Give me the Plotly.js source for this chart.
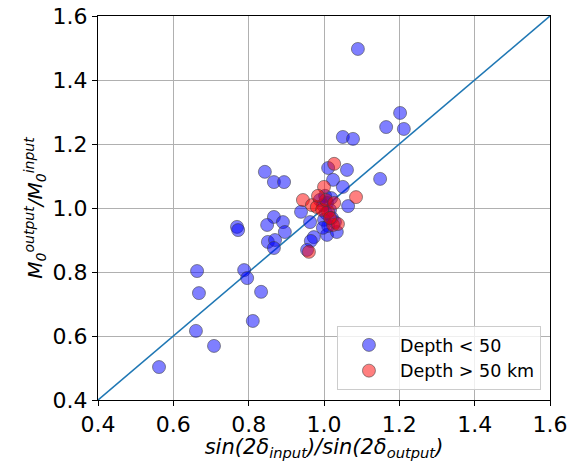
<!DOCTYPE html>
<html>
<head>
<meta charset="utf-8">
<script src="https://cdn.plot.ly/plotly-3.0.1.min.js"></script>
<style>html,body{margin:0;padding:0;background:#fff;}#chart{width:579px;height:461px;}</style>
</head>
<body>
<div id="chart"></div>
<script>
// Depth < 50 (blue)
const shallowX = [1.090,1.202,1.165,1.212,1.050,1.077,1.149,1.011,1.061,1.024,1.050,1.064,
  0.843,0.867,0.894,0.769,0.772,0.867,0.849,0.891,0.896,0.851,0.870,0.867,0.939,0.963,0.973,0.965,0.955,
  1.008,1.034,0.788,0.796,0.663,0.668,0.833,0.811,0.660,0.708,0.562,
  1.003,1.008,1.019,0.997,1.005,1.016,1.000,1.011,0.997,1.021,1.029,0.989];
const shallowY = [1.497,1.297,1.253,1.247,1.222,1.216,1.091,1.125,1.119,1.088,1.066,1.006,
  1.113,1.081,1.081,0.941,0.931,0.972,0.947,0.956,0.925,0.894,0.900,0.875,0.988,0.956,0.909,0.897,0.869,
  0.916,0.925,0.806,0.781,0.803,0.734,0.738,0.647,0.616,0.569,0.503,
  1.038,1.016,1.031,1.009,0.984,0.994,0.963,0.944,0.938,0.969,0.956,1.025];
// Depth > 50 km (red)
const deepX = [1.027,1.000,1.085,0.944,0.968,0.981,0.960,1.024,1.037,1.011,0.995,1.016,1.005,1.027,0.984];
const deepY = [1.138,1.066,1.034,1.025,1.009,1.003,0.863,0.947,0.950,0.988,0.994,0.969,1.025,1.016,1.038];
const lineX = [0.4, 1.6];
const lineY = [0.4, 1.6];
const tickVals = [0.4,0.6,0.8,1.0,1.2,1.4,1.6];

const mk = (c) => ({size: 13, color: c, line: {color: 'rgba(60,60,60,0.55)', width: 1}});
const traces = [
  {x: lineX, y: lineY, mode: 'lines', line: {color: '#1f77b4', width: 1.6}, showlegend: false, hoverinfo: 'skip'},
  {x: shallowX, y: shallowY, mode: 'markers', name: 'Depth < 50', marker: mk('rgba(0,0,255,0.5)')},
  {x: deepX, y: deepY, mode: 'markers', name: 'Depth > 50 km', marker: mk('rgba(255,0,0,0.5)')}
];
const ax = {
  range: [0.4, 1.6], tickvals: tickVals, tickformat: '.1f',
  showgrid: true, gridcolor: '#b0b0b0', gridwidth: 1, zeroline: false,
  showline: true, linecolor: '#000', linewidth: 1, mirror: true,
  ticks: 'outside', ticklen: 5, tickcolor: '#000',
  tickfont: {family: 'DejaVu Sans', size: 22, color: '#000'}
};
const layout = {
  width: 579, height: 461,
  margin: {l: 98, r: 29, t: 16, b: 61},
  paper_bgcolor: '#fff', plot_bgcolor: '#fff',
  xaxis: Object.assign({}, ax, {title: {text: '<i>sin(2δ<sub>input</sub>)/sin(2δ<sub>output</sub>)</i>', font: {family: 'DejaVu Sans', size: 21, color: '#000'}, standoff: 6}}),
  yaxis: Object.assign({}, ax, {title: {text: '<i>M<sub>0</sub><sup>output</sup>/M<sub>0</sub><sup>input</sup></i>', font: {family: 'DejaVu Sans', size: 20, color: '#000'}, standoff: 4}}),
  legend: {x: 0.98, y: 0.026, xanchor: 'right', yanchor: 'bottom', bgcolor: 'rgba(255,255,255,0.8)', bordercolor: '#cccccc', borderwidth: 1,
    font: {family: 'DejaVu Sans', size: 17.5, color: '#000'}, itemwidth: 52, tracegroupgap: 4},
  showlegend: true
};
Plotly.newPlot('chart', traces, layout, {displayModeBar: false, staticPlot: true});
</script>
</body>
</html>
